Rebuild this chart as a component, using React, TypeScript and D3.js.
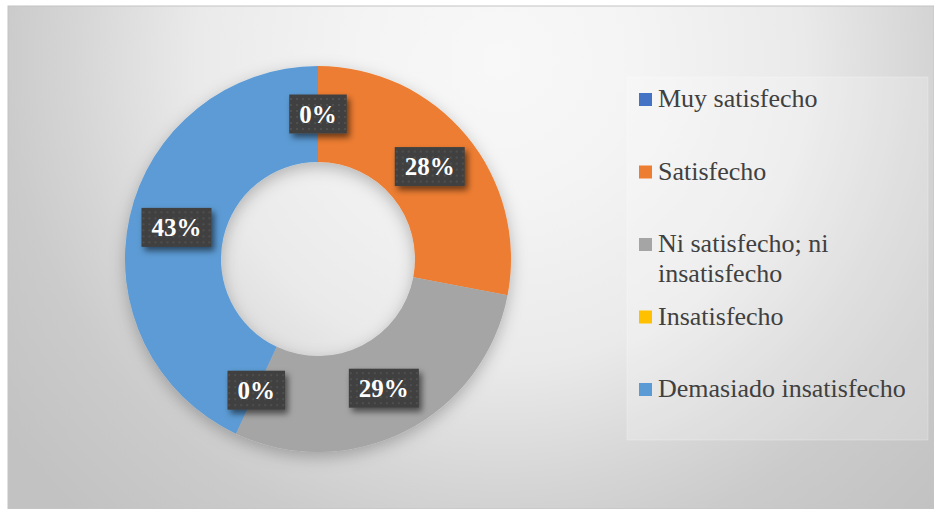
import React, { useEffect, useRef } from 'react'
import * as d3 from 'd3'

// satisfaction survey results (percent)
const categories = [
  'Muy satisfecho',
  'Satisfecho',
  'Ni satisfecho; ni insatisfecho',
  'Insatisfecho',
  'Demasiado insatisfecho',
]
const values = [0, 28, 29, 0, 43]
const legendLines = [
  ['Muy satisfecho'],
  ['Satisfecho'],
  ['Ni satisfecho; ni', 'insatisfecho'],
  ['Insatisfecho'],
  ['Demasiado insatisfecho'],
]
const colors = ['#4472C4', '#ED7D31', '#A5A5A5', '#FFC000', '#5B9BD5']

const W = 934
const H = 509
const FONT = "'Liberation Serif', 'Times New Roman', Tinos, 'DejaVu Serif', serif"

export default function App() {
  const ref = useRef<SVGSVGElement | null>(null)

  useEffect(() => {
    const svg = d3.select(ref.current)
    svg.selectAll('*').remove()

    const defs = svg.append('defs')

    const bg = defs.append('radialGradient')
      .attr('id', 'bg')
      .attr('gradientUnits', 'userSpaceOnUse')
      .attr('cx', 500).attr('cy', 60).attr('r', 620)
    const stops: [number, string][] = [
      [0, '#f8f8f8'], [0.22, '#f4f4f4'], [0.49, '#eaeaea'],
      [0.69, '#d5d5d5'], [0.8, '#cbcbcb'], [1, '#c2c2c2'],
    ]
    stops.forEach(([o, c]) => bg.append('stop').attr('offset', o).attr('stop-color', c))

    const dots = defs.append('pattern')
      .attr('id', 'dots')
      .attr('patternUnits', 'userSpaceOnUse')
      .attr('width', 6).attr('height', 6)
    dots.append('rect').attr('width', 6).attr('height', 6).attr('fill', '#3f3f3f')
    dots.append('rect').attr('x', 2).attr('y', 2).attr('width', 2).attr('height', 2).attr('fill', '#505050')

    const boxShadow = defs.append('filter').attr('id', 'boxShadow')
      .attr('x', '-30%').attr('y', '-30%').attr('width', '160%').attr('height', '170%')
    boxShadow.append('feDropShadow')
      .attr('dx', 3).attr('dy', 4).attr('stdDeviation', 3)
      .attr('flood-color', '#000').attr('flood-opacity', 0.55)

    const pieShadow = defs.append('filter').attr('id', 'pieShadow')
      .attr('x', '-20%').attr('y', '-20%').attr('width', '140%').attr('height', '150%')
    pieShadow.append('feDropShadow')
      .attr('dx', 0).attr('dy', 5).attr('stdDeviation', 8)
      .attr('flood-color', '#000').attr('flood-opacity', 0.25)

    // chart background
    svg.append('rect')
      .attr('x', 8).attr('y', 6).attr('width', W - 8).attr('height', H - 6)
      .attr('fill', 'url(#bg)')
      .attr('stroke', '#c4c4c4').attr('stroke-width', 1)

    // donut
    const cx = 318
    const cy = 259
    const outer = 193
    const inner = 97

    const pie = d3.pie<number>().sort(null).value(d => d)
    const arcs = pie(values)
    const arc = d3.arc<d3.PieArcDatum<number>>().innerRadius(inner).outerRadius(outer)
    const labelArc = d3.arc<d3.PieArcDatum<number>>()
      .innerRadius((inner + outer) / 2).outerRadius((inner + outer) / 2)

    const g = svg.append('g').attr('transform', `translate(${cx},${cy})`)
    g.append('g').attr('filter', 'url(#pieShadow)')
      .selectAll('path')
      .data(arcs)
      .enter()
      .append('path')
      .attr('d', d => arc(d) as string)
      .attr('fill', (d, i) => colors[i])

    const total = d3.sum(values)
    const fmt = d3.format('.0%')

    const labels = g.selectAll('g.lbl')
      .data(arcs)
      .enter()
      .append('g')
      .attr('class', 'lbl')
      .attr('transform', d => {
        const [x, y] = labelArc.centroid(d)
        return `translate(${x},${y})`
      })

    labels.each(function (d) {
      const lg = d3.select(this)
      const rect = lg.append('rect').attr('fill', 'url(#dots)').attr('filter', 'url(#boxShadow)')
      const t = lg.append('text')
        .attr('text-anchor', 'middle')
        .attr('dy', '0.35em')
        .attr('fill', '#ffffff')
        .style('font-family', FONT)
        .style('font-weight', 'bold')
        .style('font-size', '25px')
        .text(fmt(d.value / total))
      const tw = (t.node() as SVGTextElement).getComputedTextLength()
      const bw = tw + 20
      const bh = 39
      rect.attr('x', -bw / 2).attr('y', -bh / 2).attr('width', bw).attr('height', bh)
    })

    // legend
    const lx = 627
    const ly = 77
    svg.append('rect')
      .attr('x', lx).attr('y', ly).attr('width', 301).attr('height', 363)
      .attr('fill', '#ffffff').attr('fill-opacity', 0.22)
      .attr('stroke', '#ffffff').attr('stroke-opacity', 0.25)

    const rowY = d3.scaleLinear().domain([0, categories.length - 1]).range([107, 397])

    const items = svg.append('g')
      .selectAll('g')
      .data(categories)
      .enter()
      .append('g')
      .attr('transform', (d, i) => `translate(${lx + 12},${rowY(i)})`)

    items.append('rect')
      .attr('x', 0).attr('y', -14).attr('width', 13).attr('height', 13)
      .attr('fill', (d, i) => colors[i])

    items.append('text')
      .attr('x', 19)
      .attr('fill', '#404040')
      .style('font-family', FONT)
      .style('font-size', '26px')
      .selectAll('tspan')
      .data((d, i) => legendLines[i])
      .enter()
      .append('tspan')
      .attr('x', 19)
      .attr('dy', (d, j) => (j === 0 ? 0 : 30))
      .text(d => d)
  }, [])

  return (
    <svg
      ref={ref}
      width={W}
      height={H}
      style={{ position: 'absolute', left: 0, top: 0, display: 'block' }}
    />
  )
}
